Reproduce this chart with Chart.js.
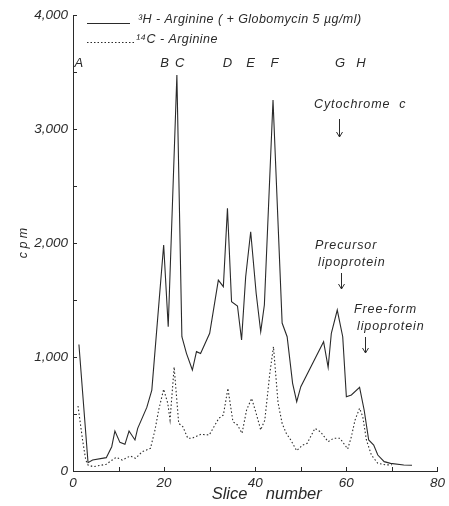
<!DOCTYPE html>
<html lang="en">
<head>
    <meta charset="UTF-8">
    <title>Slice profile</title>
    <script src="https://cdn.jsdelivr.net/npm/chart.js@4.4.1/dist/chart.umd.min.js"></script>
    <style>
        body { margin: 0; background: #fff; }
    </style>
</head>
<body>
    <canvas id="myChart" width="449" height="506"></canvas>

    <script>
        // 3H-Arginine (+ Globomycin) - slice number and cpm
        const h3Slices = [1.3, 3.3, 4.3, 7.3, 8.5, 9.2, 10.3, 11.4, 12.3, 13.6, 14.2, 16.2, 17.3, 19.9, 20.9, 22.8,
            23.9, 24.9, 26.2, 27.1, 28, 30, 31.9, 33, 33.9, 34.8, 36.1, 37, 37.9, 39, 40.2, 41.2, 42, 43.9,
            45.9, 47, 48.2, 49.1, 50, 55, 56, 56.7, 58, 59.2, 60, 61.1, 62.9, 63.9, 64.9, 66, 66.9, 68.3, 69.7, 72.6, 74.4];
        const h3Cpm = [1110, 73, 96, 117, 213, 351, 251, 234, 351, 272, 374, 558, 710, 1982, 1266, 3474,
            1178, 1032, 886, 1047, 1030, 1208, 1675, 1617, 2304, 1485, 1447, 1149, 1704, 2099, 1559, 1222, 1456, 3254,
            1298, 1178, 769, 608, 740, 1134, 909, 1208, 1412, 1178, 652, 667, 734, 535, 272, 228, 140, 82, 67, 53, 50];

        // 14C-Arginine
        const c14Slices = [1.1, 2.1, 2.8, 3.3, 4.4, 7.3, 8.3, 9.5, 10.8, 12.6, 13.7, 15.2, 17, 18, 18.8, 19.9, 20.8, 21.3,
            22.2, 23.2, 24.1, 25.2, 26.1, 28.1, 29.9, 32, 33, 34, 35.1, 36.1, 37.1, 38.1, 39.2, 40.2, 41.2, 42.1,
            43.2, 44, 45, 45.9, 46.8, 47.8, 49.1, 50.4, 51.4, 53.1, 54.3, 56, 57.2, 58.6, 60.3, 61.1, 61.9, 62.9,
            63.6, 64.4, 65.5, 66.9, 68.7, 70];
        const c14Cpm = [570, 272, 96, 53, 38, 59, 88, 120, 96, 132, 111, 169, 199, 360, 535, 717, 594, 447,
            912, 418, 389, 287, 287, 322, 316, 462, 491, 725, 433, 404, 331, 535, 637, 506, 360, 447,
            857, 1090, 600, 418, 331, 272, 178, 228, 243, 374, 345, 257, 287, 287, 193, 301, 447, 550,
            476, 272, 140, 67, 53, 55];

        // peak letters and their slice positions
        const peakLetters = ['A', 'B', 'C', 'D', 'E', 'F', 'G', 'H'];
        const peakSlices = [1.3, 20.1, 23.4, 33.9, 39, 44.2, 58.6, 63.2];

        const seriesNames = ['\u00B3H - Arginine ( + Globomycin 5 \u00B5g/ml)', '\u00B9\u2074C - Arginine'];

        const ink = '#2a2a2a';
        const family = '"Liberation Sans", sans-serif';

        function toPoints(xs, ys) {
            return xs.map((x, i) => ({ x: x, y: ys[i] }));
        }

        // legend, peak letters, marker notes and inward ticks
        const overlay = {
            id: 'overlay',
            afterDraw(chart) {
                const ctx = chart.ctx;
                const xs = chart.scales.x;
                const ys = chart.scales.y;
                const area = chart.chartArea;
                ctx.save();
                ctx.strokeStyle = ink;
                ctx.fillStyle = ink;
                ctx.lineWidth = 1;

                // inward ticks
                for (let v = 0; v <= 4000; v += 500) {
                    const py = Math.round(ys.getPixelForValue(v)) + 0.5;
                    ctx.beginPath();
                    ctx.moveTo(area.left, py);
                    ctx.lineTo(area.left + 4, py);
                    ctx.stroke();
                }
                for (let v = 10; v <= 80; v += 10) {
                    const px = Math.round(xs.getPixelForValue(v)) + 0.5;
                    ctx.beginPath();
                    ctx.moveTo(px, area.bottom);
                    ctx.lineTo(px, area.bottom - 4);
                    ctx.stroke();
                }

                // legend
                ctx.beginPath();
                ctx.moveTo(87, 23.5);
                ctx.lineTo(130, 23.5);
                ctx.stroke();
                ctx.setLineDash([1.5, 2]);
                ctx.beginPath();
                ctx.moveTo(87, 42.5);
                ctx.lineTo(134, 42.5);
                ctx.stroke();
                ctx.setLineDash([]);
                ctx.font = 'italic 12.5px ' + family;
                ctx.letterSpacing = '0.45px';
                ctx.textBaseline = 'middle';
                ctx.textAlign = 'left';
                ctx.fillText(seriesNames[0], 138, 20);
                ctx.fillText(seriesNames[1], 136, 40);

                // peak letters
                ctx.font = 'italic 13px ' + family;
                ctx.letterSpacing = '0px';
                ctx.textAlign = 'center';
                peakLetters.forEach((l, i) => {
                    ctx.fillText(l, xs.getPixelForValue(peakSlices[i]), 63);
                });

                // marker notes
                ctx.font = 'italic 12.5px ' + family;
                ctx.letterSpacing = '0.9px';
                ctx.textAlign = 'left';
                ctx.fillText('Cytochrome  c', 314, 105);
                ctx.fillText('Precursor', 315, 246);
                ctx.fillText('lipoprotein', 318, 263);
                ctx.fillText('Free-form', 354, 310);
                ctx.fillText('lipoprotein', 357, 327);
                ctx.letterSpacing = '0px';

                function arrow(x, y1, y2) {
                    ctx.beginPath();
                    ctx.moveTo(x, y1);
                    ctx.lineTo(x, y2);
                    ctx.moveTo(x - 3, y2 - 5);
                    ctx.lineTo(x, y2);
                    ctx.lineTo(x + 3, y2 - 5);
                    ctx.stroke();
                }
                arrow(339.5, 119, 137);
                arrow(341.5, 273, 289);
                arrow(365.5, 337, 353);

                ctx.restore();
            }
        };

        const ctx = document.getElementById('myChart').getContext('2d');

        const myChart = new Chart(ctx, {
            type: 'line',
            data: {
                datasets: [{
                    label: seriesNames[0],
                    data: toPoints(h3Slices, h3Cpm),
                    borderColor: ink,
                    borderWidth: 1.1,
                    pointRadius: 0,
                    tension: 0,
                    fill: false
                }, {
                    label: seriesNames[1],
                    data: toPoints(c14Slices, c14Cpm),
                    borderColor: ink,
                    borderWidth: 1.1,
                    borderDash: [1.5, 2.2],
                    pointRadius: 0,
                    tension: 0,
                    fill: false
                }]
            },
            options: {
                responsive: false,
                animation: false,
                layout: { padding: { left: 0, top: 15, right: 7, bottom: 0 } },
                plugins: {
                    legend: { display: false },
                    tooltip: { enabled: false }
                },
                scales: {
                    x: {
                        type: 'linear',
                        min: 0,
                        max: 80,
                        afterFit: (s) => { s.height = 35; },
                        grid: { display: false, drawTicks: false },
                        border: { color: ink, width: 1 },
                        ticks: {
                            stepSize: 10,
                            padding: 4,
                            maxRotation: 0,
                            color: ink,
                            font: { family: family, style: 'italic', size: 13.5 },
                            callback: (v) => (v % 20 === 0 ? v : '')
                        },
                        title: {
                            display: true,
                            text: '     Slice    number',
                            color: ink,
                            padding: { top: 0, bottom: 2 },
                            font: { family: family, style: 'italic', size: 16.5 }
                        }
                    },
                    y: {
                        min: 0,
                        max: 4000,
                        afterFit: (s) => { s.width = 73; },
                        grid: { display: false, drawTicks: false },
                        border: { color: ink, width: 1 },
                        ticks: {
                            stepSize: 500,
                            padding: 5,
                            color: ink,
                            font: { family: family, style: 'italic', size: 13.5 },
                            callback: (v) => (v % 1000 === 0 ? v.toLocaleString('en-US') : '')
                        },
                        title: {
                            display: true,
                            text: 'c p m',
                            color: ink,
                            padding: { top: 16, bottom: 0 },
                            font: { family: family, style: 'italic', size: 12.5 }
                        }
                    }
                }
            },
            plugins: [overlay]
        });
    </script>
</body>
</html>
